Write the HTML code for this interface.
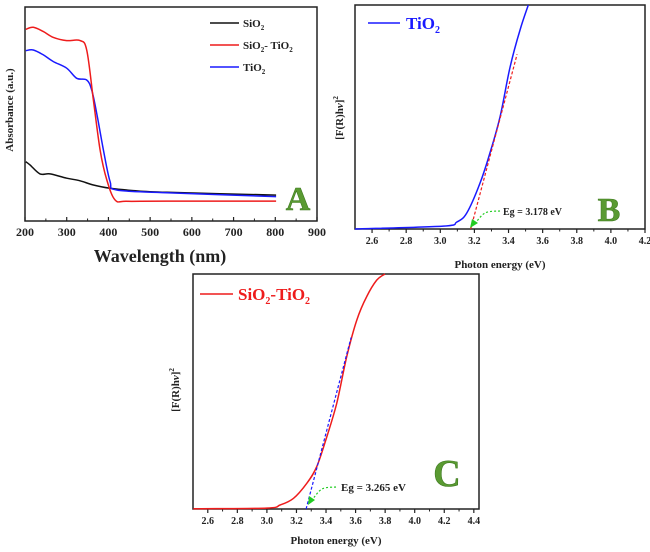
<!DOCTYPE html>
<html><head><meta charset="utf-8"><style>
body{margin:0;background:#fff;width:650px;height:552px;overflow:hidden}
svg{display:block}
text{font-family:"Liberation Serif",serif;font-weight:bold}
</style></head><body>
<svg id="s" width="650" height="552" viewBox="0 0 650 552"></svg>
<script>
// Panel A data (wavelength nm, absorbance a.u. 0-100)
const aRedX=[202,220,244,268,300,332,348,364,380,396,416,444,540,802];
const aRedY=[89.6,90.5,88.5,85.8,84.3,84.3,79.9,56.5,33.2,19.2,9.8,9.2,9.3,9.3];
const aBlueX=[202,220,244,268,300,324,348,360,372,388,404,420,540,802];
const aBlueY=[79.6,79.9,77.6,74.5,71.4,66.7,65.9,61.2,50.3,33.2,18.4,14.5,13.2,11.4];
const aBlackX=[202,212,236,260,300,332,364,404,460,540,802];
const aBlackY=[27.7,26.2,22,22,20,18.8,16.8,15.3,14.2,13.4,12.1];
const aTicks=[200,300,400,500,600,700,800,900];
// Panel B data (eV, [F(R)hv]^2)
const bX=[2.5,3.018,3.096,3.155,3.233,3.291,3.35,3.409,3.467,3.516];
const bY=[0,1.3,3.1,7.1,20.5,33.9,50,72.3,88.8,100];
const bFitX=[3.178,3.45];
const bFitY=[0,78];
const bTicks=[2.6,2.8,3.0,3.2,3.4,3.6,3.8,4.0,4.2];
// Panel C data
const cX=[2.502,2.998,3.089,3.179,3.269,3.337,3.405,3.472,3.54,3.608,3.675,3.743,3.799];
const cY=[0.1,0.4,1.7,4.5,10.9,18,30.7,44.9,64.8,80.4,90.4,97.4,100];
const cFitX=[3.265,3.57];
const cFitY=[0,73];
const cTicks=[2.6,2.8,3.0,3.2,3.4,3.6,3.8,4.0,4.2,4.4];

const S=document.getElementById('s');
const NS='http://www.w3.org/2000/svg';
function mk(tag,at,parent){const e=document.createElementNS(NS,tag);for(const k in at)e.setAttribute(k,at[k]);(parent||S).appendChild(e);return e;}
function lin(d0,d1,r0,r1){return v=>r0+(v-d0)/(d1-d0)*(r1-r0);}
function txt(x,y,s,size,fill,anchor,name){const t=mk('text',{x:x,y:y,'font-size':size,fill:fill||'#222','text-anchor':anchor||'middle'});t.innerHTML=s;return t;}
function path(xs,ys,fx,fy,stroke,w,dash,name,smooth){
  const P=xs.map((v,i)=>[fx(v),fy(ys[i])]);
  let d='M'+P[0][0].toFixed(1)+','+P[0][1].toFixed(1);
  for(let i=0;i<P.length-1;i++){
    if(!smooth){d+='L'+P[i+1][0].toFixed(1)+','+P[i+1][1].toFixed(1);continue;}
    const p0=P[Math.max(0,i-1)],p1=P[i],p2=P[i+1],p3=P[Math.min(P.length-1,i+2)];
    const c1=[p1[0]+(p2[0]-p0[0])/6,p1[1]+(p2[1]-p0[1])/6],c2=[p2[0]-(p3[0]-p1[0])/6,p2[1]-(p3[1]-p1[1])/6];
    d+='C'+c1.map(n=>n.toFixed(1))+' '+c2.map(n=>n.toFixed(1))+' '+p2.map(n=>n.toFixed(1));
  }
  const p=mk('path',{d:d,fill:'none',stroke:stroke,'stroke-width':w,'stroke-linejoin':'round'});if(dash)p.setAttribute('stroke-dasharray',dash);return p;}
function frame(x0,y0,x1,y1,name){const r=mk('rect',{x:x0,y:y0,width:x1-x0,height:y1-y0,fill:'#fff',stroke:'#222','stroke-width':1.5});}
function ticks(vals,fx,y,dir,size,name,fmt,minor){vals.forEach((v,i)=>{const x=fx(v);mk('line',{x1:x,x2:x,y1:y,y2:y+dir*4,stroke:'#222','stroke-width':1.2});txt(x,y+15,fmt(v),size,'#222','middle',name);if(minor&&i<vals.length-1){const m=fx((v+vals[i+1])/2);mk('line',{x1:m,x2:m,y1:y,y2:y+dir*2.5,stroke:'#222','stroke-width':1});}});}

// ---- Panel A
frame(25,7,317,221,'panel-a-frame');
const ax=lin(200,900,25,317), ay=lin(0,100,221,7);
ticks(aTicks,ax,221,-1,12,'panel-a-x-tick',v=>v,true);
path(aBlackX,aBlackY,ax,ay,'#111',1.5,null,'sio2-series',true);
path(aBlueX,aBlueY,ax,ay,'#1a1aff',1.5,null,'tio2-series-a',true);
path(aRedX,aRedY,ax,ay,'#ee1c1c',1.5,null,'sio2-tio2-series-a',true);
txt(160,262,'Wavelength (nm)',18,'#222','middle','panel-a-x-title');
const ya=txt(0,0,'Absorbance (a.u.)',11,'#222','middle','panel-a-y-title');ya.setAttribute('transform','translate(13,110) rotate(-90)');
[['#111','SiO<tspan font-size="7" dy="3">2</tspan>',23],['#ee1c1c','SiO<tspan font-size="7" dy="3">2</tspan><tspan dy="-3">- TiO</tspan><tspan font-size="7" dy="3">2</tspan>',45],['#1a1aff','TiO<tspan font-size="7" dy="3">2</tspan>',67]].forEach(l=>{const ln=mk('line',{x1:210,x2:239,y1:l[2],y2:l[2],stroke:l[0],'stroke-width':1.5});txt(243,l[2]+4,l[1],11,'#222','start','legend-entry');});
const A=txt(298,210,'A',34,'#5a9a32','middle','panel-a-label');A.setAttribute('stroke','#3d7a1f');A.setAttribute('stroke-width','0.6');

// ---- Panel B
frame(355,5,645,229,'panel-b-frame');
const bx=lin(2.5,4.2,355,645), by=lin(0,100,229,5);
ticks(bTicks,bx,229,1,10,'panel-b-x-tick',v=>v.toFixed(1),true);
path(bX,bY,bx,by,'#1a1aff',1.5,null,'tio2-series-b',true);
path(bFitX,bFitY,bx,by,'#ee1c1c',1.2,'3,2','panel-b-fit-line',false);
txt(500,268,'Photon energy (eV)',11,'#222','middle','panel-b-x-title');
const yb=txt(0,0,'[F(R)h<tspan font-style="italic">ν</tspan>]<tspan font-size="7" dy="-5">2</tspan>',11,'#222','middle','panel-b-y-title');yb.setAttribute('transform','translate(343,118) rotate(-90)');
mk('line',{x1:368,x2:400,y1:23,y2:23,stroke:'#1a1aff','stroke-width':1.5});
txt(406,29,'TiO<tspan font-size="10" dy="4">2</tspan>',17,'#1a1aff','start','panel-b-legend');
path([500,485,474],[211,213,225],v=>v,v=>v,'#22cc22',1.2,'2,2','panel-b-arrow',true);
mk('polygon',{points:'470,228 472,219 478,223',fill:'#22cc22'});
txt(503,215,'Eg = 3.178 eV',10,'#222','start','panel-b-eg-label');
const B=txt(609,221,'B',34,'#5a9a32','middle','panel-b-label');B.setAttribute('stroke','#3d7a1f');B.setAttribute('stroke-width','0.6');

// ---- Panel C
frame(193,274,479,509,'panel-c-frame');
const cx=lin(2.5,4.435,193,479), cy=lin(0,100,509,274);
ticks(cTicks,cx,509,1,10,'panel-c-x-tick',v=>v.toFixed(1),true);
path(cX,cY,cx,cy,'#ee1c1c',1.5,null,'sio2-tio2-series-c',true);
path(cFitX,cFitY,cx,cy,'#1a1aff',1.2,'3,2','panel-c-fit-line',false);
txt(336,544,'Photon energy (eV)',11,'#222','middle','panel-c-x-title');
const yc=txt(0,0,'[F(R)h<tspan font-style="italic">ν</tspan>]<tspan font-size="7" dy="-5">2</tspan>',11,'#222','middle','panel-c-y-title');yc.setAttribute('transform','translate(179,390) rotate(-90)');
mk('line',{x1:200,x2:233,y1:294,y2:294,stroke:'#ee1c1c','stroke-width':1.5});
txt(238,300,'SiO<tspan font-size="10" dy="4">2</tspan><tspan dy="-4">-TiO</tspan><tspan font-size="10" dy="4">2</tspan>',17,'#ee1c1c','start','panel-c-legend');
path([336,322,312],[487,489,500],v=>v,v=>v,'#22cc22',1.2,'2,2','panel-c-arrow',true);
mk('polygon',{points:'308,505 309,496 315,500',fill:'#22cc22'});
txt(341,491,'Eg = 3.265 eV',11,'#222','start','panel-c-eg-label');
const C=txt(447,486,'C',38,'#5a9a32','middle','panel-c-label');C.setAttribute('stroke','#3d7a1f');C.setAttribute('stroke-width','0.6');
</script>
</body></html>
